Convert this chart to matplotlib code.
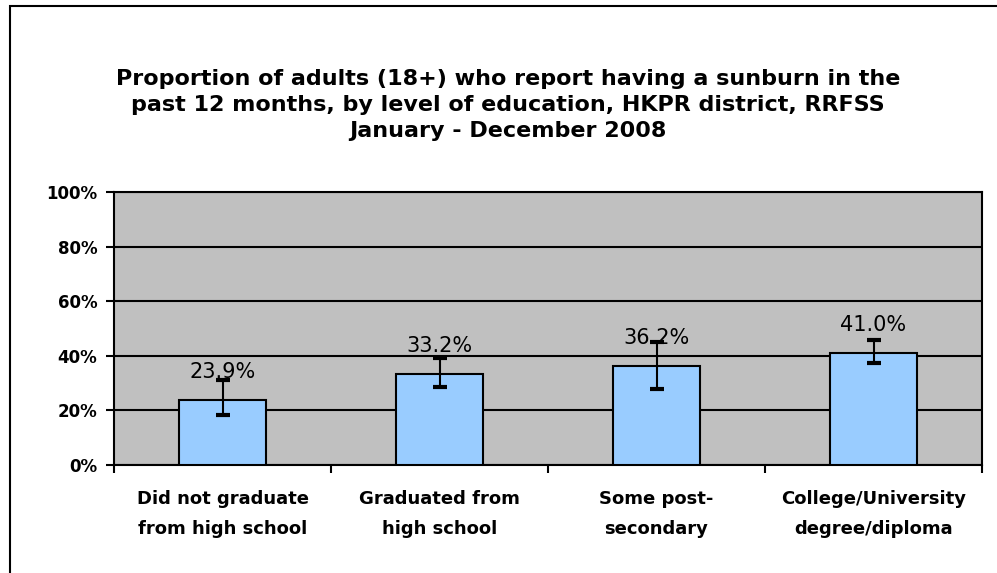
import matplotlib
matplotlib.use("Agg")
import matplotlib.pyplot as plt
from matplotlib.patches import Rectangle

categories = ["Did not graduate\nfrom high school", "Graduated from\nhigh school",
              "Some post-\nsecondary", "College/University\ndegree/diploma"]
values = [23.9, 33.2, 36.2, 41.0]
ci_low = [18.3, 28.6, 27.8, 37.4]
ci_high = [31.1, 39.2, 45.0, 45.8]
yticks = [0, 20, 40, 60, 80, 100]
title = ("Proportion of adults (18+) who report having a sunburn in the\n"
         "past 12 months, by level of education, HKPR district, RRFSS\n"
         "January - December 2008")

FONT = ["DejaVu Sans"]

W, H = 997, 573
fig = plt.figure(figsize=(W / 100, H / 100), dpi=100)
fig.patch.set_facecolor("white")

# outer chart frame
fig.add_artist(Rectangle((10 / W, -0.05), 1.2, (H - 6) / H + 0.05, transform=fig.transFigure,
                         fill=False, edgecolor="black", linewidth=1.5))

ax = fig.add_axes([114 / W, 1 - 465 / H, (982 - 114) / W, (465 - 192) / H])
ax.set_facecolor("#C0C0C0")

x = list(range(len(values)))
ax.bar(x, values, width=0.4, color="#99CCFF", edgecolor="black", linewidth=1.5, zorder=3)
lower = [v - l for v, l in zip(values, ci_low)]
upper = [h - v for v, h in zip(values, ci_high)]
ax.errorbar(x, values, yerr=[lower, upper], fmt="none", ecolor="black",
            elinewidth=1.5, capsize=5, capthick=3, zorder=4)

for xi, v in zip(x, values):
    ax.annotate(f"{v:.1f}%", (xi, v), xytext=(0, 18), textcoords="offset pixels",
                ha="center", va="bottom", fontsize=15, family=FONT, zorder=5)

ax.set_xlim(-0.5, 3.5)
ax.set_ylim(0, 100)
ax.set_yticks(yticks)
ax.set_yticklabels([f"{t}%" for t in yticks], fontsize=12, fontweight="bold", family=FONT)
ax.yaxis.grid(True, color="black", linewidth=1.5, zorder=1)
ax.set_axisbelow(True)

ax.set_xticks([0.5, 1.5, 2.5, 3.5, -0.5], minor=True)
ax.set_xticks(x)
ax.set_xticklabels(categories, fontsize=13, fontweight="bold", family=FONT, linespacing=1.85)
ax.tick_params(axis="x", which="major", length=0, pad=18)
ax.tick_params(axis="x", which="minor", length=6, width=1.5, direction="out")
ax.tick_params(axis="y", length=6, width=1.5, direction="out", pad=6)

for s in ax.spines.values():
    s.set_color("black")
    s.set_linewidth(1.5)

fig.text(508 / W, 1 - 105 / H, title, ha="center", va="center", fontsize=16,
         fontweight="bold", family=FONT, linespacing=1.35)

fig.savefig("out.png", dpi=100, facecolor="white")
